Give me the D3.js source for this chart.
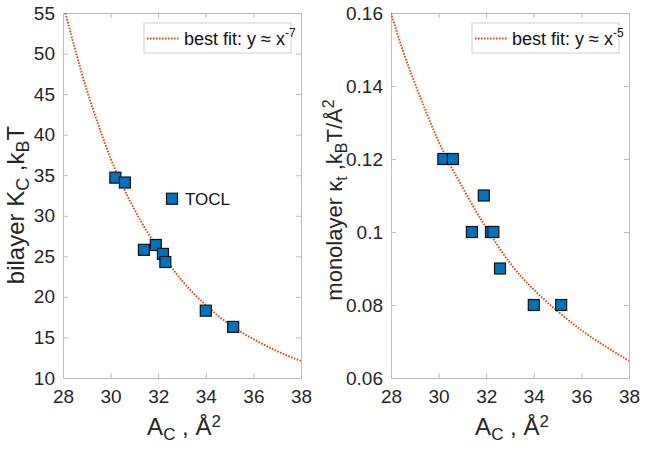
<!DOCTYPE html>
<html>
<head>
<meta charset="utf-8">
<script src="https://cdn.jsdelivr.net/npm/d3@7"></script>
<style>
  body { margin: 0; background: #ffffff; }
  svg { display: block; font-family: "Liberation Sans", Arial, Helvetica, sans-serif; }
</style>
</head>
<body>
<svg id="chart" width="645" height="452"></svg>
<script>
// Data
const areaC = [30.2, 30.6, 31.4, 31.9, 32.2, 32.3, 32.58, 34.0, 35.15];
const bilayerKc = [34.7, 34.1, 25.8, 26.4, 25.3, 24.3, 32.1, 18.3, 16.3];
const monolayerKt = [0.12, 0.12, 0.10, 0.11, 0.10, 0.10, 0.09, 0.08, 0.08];
const pointLabels = ["", "", "", "", "", "", "TOCL", "", ""];

// best-fit curves, sampled from the figure
const fitXLeft = [28.1, 28.5, 29, 29.5, 30, 30.5, 31, 31.5, 32, 33, 34, 35, 36, 37, 38];
const fitKc = [55, 50.6, 45.5, 41.1, 37.1, 33.7, 30.8, 28.2, 26, 22, 19, 16.6, 14.8, 13.3, 12.1];
const fitXRight = [28, 28.5, 29, 29.5, 30, 30.5, 31, 31.5, 32, 33, 34, 35, 36, 37, 38];
const fitKt = [0.16, 0.1497, 0.1408, 0.1325, 0.1248, 0.1182, 0.1123, 0.1065, 0.1012, 0.0915, 0.0842, 0.0783, 0.0731, 0.0687, 0.0647];

const xTicks = [28, 30, 32, 34, 36, 38];
const yTicksLeft = [10, 15, 20, 25, 30, 35, 40, 45, 50, 55];
const yTicksRight = [0.06, 0.08, 0.1, 0.12, 0.14, 0.16];

const svg = d3.select("#chart");
const frameColor = "#bdbdbd";
const textColor = "#262626";
const markerFill = "#0072BD";
const fitColor = "#D95319";

// write text with sub/superscripts as tspans
function richText(sel, parts, big, small) {
  let shift = 0;
  parts.forEach(p => {
    const target = p.sub ? 5 : p.sup ? -8 : 0;
    sel.append("tspan")
      .attr("dy", target - shift)
      .attr("font-size", (p.sub || p.sup) ? small : big)
      .text(p.t);
    shift = target;
  });
}

function drawPanel(cfg) {
  const x = d3.scaleLinear().domain([28, 38]).range([cfg.left, cfg.right]);
  const y = d3.scaleLinear().domain(cfg.yDomain).range([378, 13]);
  const g = svg.append("g");

  g.append("rect")
    .attr("x", cfg.left).attr("y", 13)
    .attr("width", cfg.right - cfg.left).attr("height", 365)
    .attr("fill", "#ffffff");

  // axes with inward ticks, also on top and right
  const tick = 5;
  const bottom = g.append("g").attr("transform", "translate(0,378)")
    .call(d3.axisBottom(x).tickValues(xTicks).tickSizeInner(-tick).tickSizeOuter(0).tickPadding(12));
  const top = g.append("g").attr("transform", "translate(0,13)")
    .call(d3.axisTop(x).tickValues(xTicks).tickSizeInner(-tick).tickSizeOuter(0).tickFormat(""));
  const leftAx = g.append("g").attr("transform", `translate(${cfg.left},0)`)
    .call(d3.axisLeft(y).tickValues(cfg.yTicks).tickSizeInner(-tick).tickSizeOuter(0).tickPadding(8)
      .tickFormat(cfg.fmt));
  const rightAx = g.append("g").attr("transform", `translate(${cfg.right},0)`)
    .call(d3.axisRight(y).tickValues(cfg.yTicks).tickSizeInner(-tick).tickSizeOuter(0).tickFormat(""));

  [bottom, top, leftAx, rightAx].forEach(a => {
    a.selectAll("path.domain").attr("stroke", frameColor).attr("stroke-width", 1);
    a.selectAll(".tick line").attr("stroke", frameColor);
    a.selectAll("text").attr("fill", textColor).attr("font-size", 19)
      .attr("font-family", "Liberation Sans, Arial, sans-serif");
  });

  // fit line
  const clipId = "clip" + cfg.left;
  g.append("clipPath").attr("id", clipId).append("rect")
    .attr("x", cfg.left).attr("y", 13).attr("width", cfg.right - cfg.left).attr("height", 365);
  const line = d3.line().x(d => x(d[0])).y(d => y(d[1])).curve(d3.curveMonotoneX);
  g.append("path")
    .datum(cfg.fitX.map((v, i) => [v, cfg.fitY[i]]))
    .attr("clip-path", `url(#${clipId})`)
    .attr("d", line)
    .attr("fill", "none")
    .attr("stroke", fitColor)
    .attr("stroke-width", 2)
    .attr("stroke-dasharray", "1.6 1.4");

  // markers
  const s = 11;
  g.selectAll("rect.pt")
    .data(areaC.map((v, i) => [v, cfg.values[i]]))
    .enter().append("rect")
    .attr("class", "pt")
    .attr("x", d => x(d[0]) - s / 2)
    .attr("y", d => y(d[1]) - s / 2)
    .attr("width", s).attr("height", s)
    .attr("fill", markerFill)
    .attr("stroke", "#111111")
    .attr("stroke-width", 1.2);

  if (cfg.labels) {
    g.selectAll("text.pl")
      .data(areaC.map((v, i) => [v, cfg.values[i], cfg.labels[i]]).filter(d => d[2]))
      .enter().append("text")
      .attr("class", "pl")
      .attr("x", d => x(d[0]) + 13)
      .attr("y", d => y(d[1]) + 6.5)
      .attr("font-size", 17)
      .attr("fill", "#111111")
      .text(d => d[2]);
  }

  // legend
  const lw = 147, lh = 30;
  const lx = cfg.right - 10 - lw, ly = 23;
  g.append("rect")
    .attr("x", lx).attr("y", ly).attr("width", lw).attr("height", lh)
    .attr("fill", "#ffffff").attr("stroke", "#cfcfcf");
  g.append("line")
    .attr("x1", lx + 3).attr("x2", lx + 36)
    .attr("y1", ly + 15.5).attr("y2", ly + 15.5)
    .attr("stroke", fitColor).attr("stroke-width", 2)
    .attr("stroke-dasharray", "1.6 1.4");
  const lt = g.append("text")
    .attr("x", lx + 40).attr("y", ly + 21.5)
    .attr("fill", "#111111");
  richText(lt, [{ t: "best fit: y \u2248 x" }, { t: cfg.power, sup: true }], 18, 12);

  // x label
  const xl = g.append("text")
    .attr("x", (cfg.left + cfg.right) / 2 + 2).attr("y", 435)
    .attr("text-anchor", "middle").attr("fill", textColor);
  richText(xl, [{ t: "A" }, { t: "C", sub: true }, { t: " , \u00C5" }, { t: "2", sup: true }], 24, 17);

  // y label
  const yl = g.append("text")
    .attr("transform", `translate(${cfg.yLabelX},${cfg.yLabelY}) rotate(-90)`)
    .attr("text-anchor", "middle").attr("fill", textColor);
  richText(yl, cfg.yLabel, cfg.yLabelSize, cfg.yLabelSize - 6);
}

drawPanel({
  left: 63, right: 301,
  yDomain: [10, 55], yTicks: yTicksLeft, fmt: d3.format("d"),
  values: bilayerKc, labels: pointLabels,
  fitX: fitXLeft, fitY: fitKc, power: "-7",
  yLabelX: 24, yLabelY: 205, yLabelSize: 24,
  yLabel: [{ t: "bilayer K" }, { t: "C", sub: true }, { t: " ,k" }, { t: "B", sub: true }, { t: "T" }]
});

drawPanel({
  left: 391, right: 629,
  yDomain: [0.06, 0.16], yTicks: yTicksRight, fmt: d => String(+d.toFixed(2)),
  values: monolayerKt, labels: null,
  fitX: fitXRight, fitY: fitKt, power: "-5",
  yLabelX: 342, yLabelY: 200, yLabelSize: 22,
  yLabel: [{ t: "monolayer \u03BA" }, { t: "t", sub: true }, { t: " ,k" }, { t: "B", sub: true }, { t: "T/\u00C5" }, { t: "2", sup: true }]
});
</script>
</body>
</html>
